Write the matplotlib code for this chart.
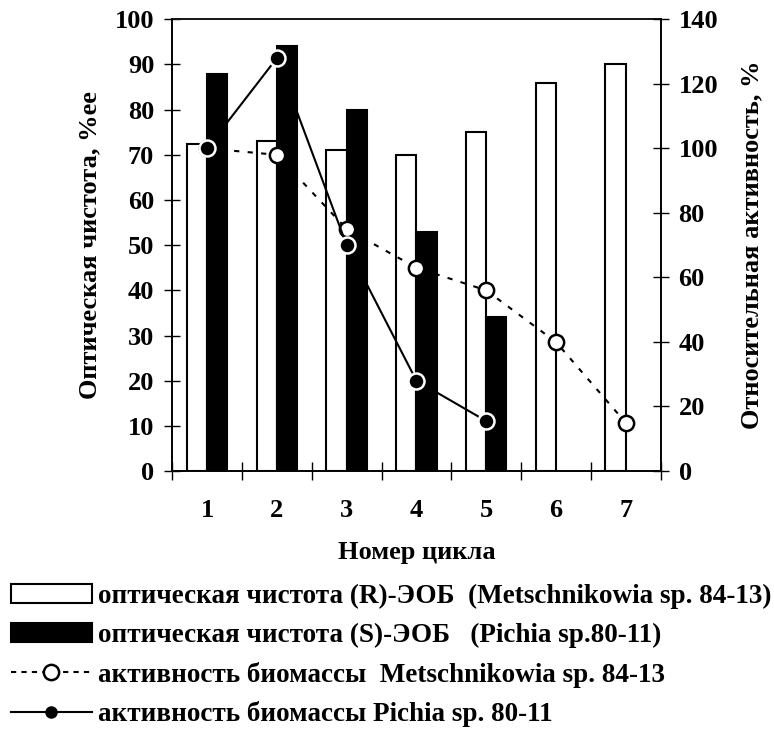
import numpy as np
import matplotlib
matplotlib.use('Agg')
import matplotlib.pyplot as plt
from matplotlib.lines import Line2D
from matplotlib.patches import Patch

plt.rcParams['font.family'] = 'Liberation Serif'
plt.rcParams['font.weight'] = 'bold'
plt.rcParams['axes.labelweight'] = 'bold'
plt.rcParams['font.size'] = 19

cycles = [1, 2, 3, 4, 5, 6, 7]
ee_metsch = [72.5, 73, 71, 70, 75, 86, 90]        # (R)-ЭОБ, Metschnikowia
ee_pichia = [88, 94, 80, 53, 34]                  # (S)-ЭОБ, Pichia
act_metsch = [100, 98, 75, 63, 56, 40, 15]        # активность, %
act_pichia = [100, 128, 70, 28, 15.5]

labels = ['оптическая чистота (R)-ЭОБ  (Metschnikowia sp. 84-13)',
          'оптическая чистота (S)-ЭОБ   (Pichia sp.80-11)',
          'активность биомассы  Metschnikowia sp. 84-13',
          'активность биомассы Pichia sp. 80-11']

x = np.array(cycles)
xp = x[:len(ee_pichia)]
w = 0.29

fig = plt.figure(figsize=(7.74, 7.51), dpi=100)
ax = fig.add_axes([0.2226, 0.3728, 0.6308, 0.6015])
ax2 = ax.twinx()

ax.bar(x - w / 2, ee_metsch, w, color='white', edgecolor='black', linewidth=1.5, zorder=2)
ax.bar(xp + w / 2, ee_pichia, w, color='black', edgecolor='black', linewidth=1.5, zorder=2)

dash = (0, (2.5, 4))
ax2.plot(x, act_metsch, color='black', lw=1.5, linestyle=dash,
         marker='o', ms=11, mfc='white', mec='black', mew=1.8, zorder=3)
ax2.plot(xp, act_pichia, color='black', lw=1.5,
         marker='o', ms=11.5, mfc='black', mec='white', mew=1.8, zorder=4)

ax.set_xlim(0.5, 7.5)
ax.set_ylim(0, 100)
ax2.set_ylim(0, 140)

ax.set_xticks(x)
ax.set_xticks(np.arange(0.5, 8, 1), minor=True)
ax.tick_params(axis='x', which='major', length=0, pad=20)
ax.tick_params(axis='x', which='minor', direction='inout', length=13, width=1)
ax.set_yticks(np.arange(0, 101, 10))
ax.tick_params(axis='y', direction='inout', length=12, width=1, pad=7)
ax2.set_yticks(np.arange(0, 141, 20))
ax2.tick_params(axis='y', direction='inout', length=12, width=1, pad=7)

for a in (ax, ax2):
    for s in a.spines.values():
        s.set_linewidth(1.2)
ax.spines['top'].set_color('#888888')

ax.set_xlabel('Номер цикла', labelpad=14)
ax.set_ylabel('Оптическая чистота, %ee', labelpad=10)
ax2.set_ylabel('Относительная активность, %', labelpad=16)

handles = [Patch(facecolor='white', edgecolor='black', linewidth=1.5),
           Patch(facecolor='black', edgecolor='black', linewidth=1.5),
           Line2D([], [], color='black', lw=1.5, linestyle=(0, (2.5, 2.5)),
                  marker='o', ms=11, mfc='white', mec='black', mew=1.8),
           Line2D([], [], color='black', lw=1.5, marker='o', ms=8,
                  mfc='black', mec='black')]
fig.legend(handles, labels, loc='upper left', bbox_to_anchor=(0.014, 0.222),
           frameon=False, handlelength=3.0, handletextpad=0.2,
           labelspacing=0.5, borderpad=0, borderaxespad=0,
           prop={'size': 19.5, 'weight': 'bold'})

fig.savefig('out.png', dpi=100)
